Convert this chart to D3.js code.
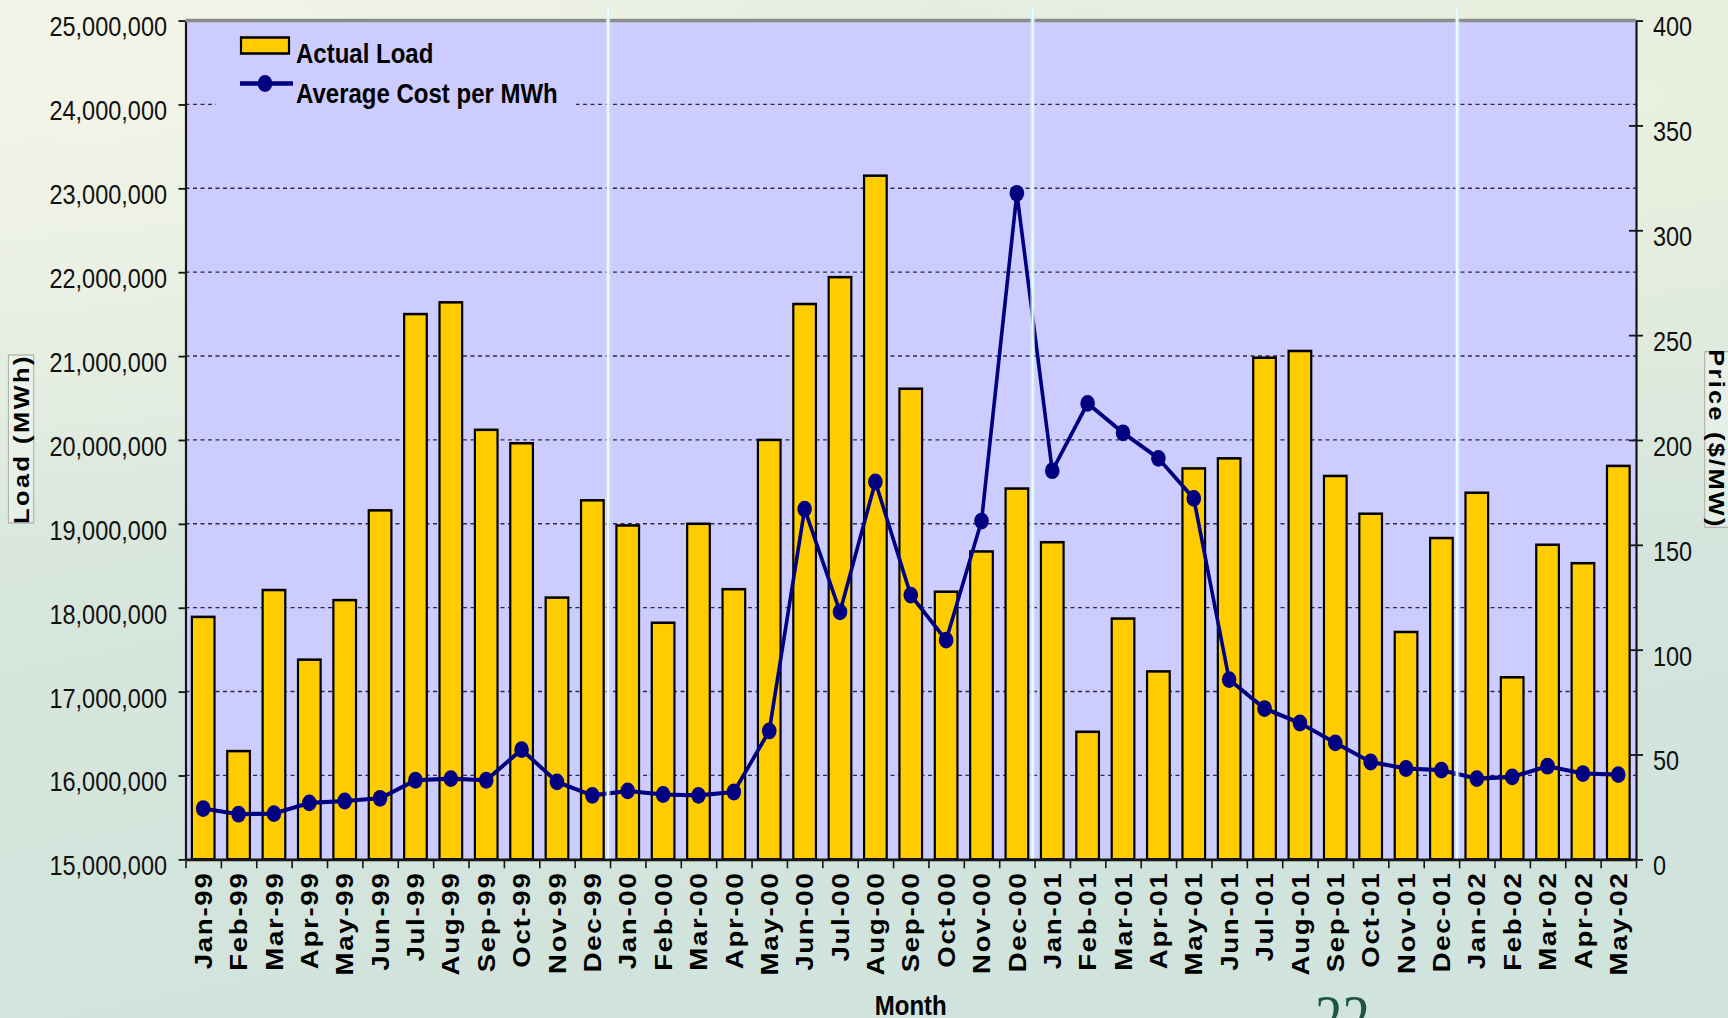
<!DOCTYPE html>
<html><head><meta charset="utf-8">
<script src="https://cdn.jsdelivr.net/npm/d3@7"></script>
<style>html,body{margin:0;padding:0;background:#dce9df;overflow:hidden}svg{display:block}</style>
</head><body><svg id="c" width="1728" height="1018"></svg>
<script>
// ---------- data ----------
const months = ["Jan-99","Feb-99","Mar-99","Apr-99","May-99","Jun-99","Jul-99","Aug-99","Sep-99","Oct-99","Nov-99","Dec-99",
  "Jan-00","Feb-00","Mar-00","Apr-00","May-00","Jun-00","Jul-00","Aug-00","Sep-00","Oct-00","Nov-00","Dec-00",
  "Jan-01","Feb-01","Mar-01","Apr-01","May-01","Jun-01","Jul-01","Aug-01","Sep-01","Oct-01","Nov-01","Dec-01",
  "Jan-02","Feb-02","Mar-02","Apr-02","May-02"];
const actualLoad = [17890000,16290000,18210000,17380000,18090000,19160000,21500000,21640000,20120000,19960000,18120000,19280000,
  18980000,17820000,19000000,18220000,20000000,21620000,21940000,23150000,20610000,18190000,18670000,19420000,
  18780000,16520000,17870000,17240000,19660000,19780000,20980000,21060000,19570000,19120000,17710000,18830000,
  19370000,17170000,18750000,18530000,19690000];
const avgCost = [24.2,21.5,21.8,26.9,27.8,29.1,37.7,38.5,37.7,52.3,36.9,30.5,
  32.6,30.9,30.5,32.1,61.2,167.0,118.0,180.0,126.0,104.5,161.3,317.6,
  185.3,217.4,203.4,191.2,172.1,85.7,71.9,65.0,55.5,46.4,43.3,42.5,
  38.5,39.3,44.4,40.9,40.4];
const loadTicks = [15000000,16000000,17000000,18000000,19000000,20000000,21000000,22000000,23000000,24000000,25000000];
const priceTicks = [0,50,100,150,200,250,300,350,400];
const seriesNames = ["Actual Load","Average Cost per MWh"];
const xTitle = "Month", yTitle = "Load (MWh)", y2Title = "Price ($/MW)";
const pageNumber = "22";

// ---------- layout ----------
const W = 1728, H = 1018, S = 1.15;          // the slide picture is stretched vertically
const v = d => d / S;
const P = {left:185.5, right:1636, top:v(20.5), bottom:v(859.3)};
const FONT = "'Liberation Sans', Arial, Helvetica, sans-serif";
const navy = "#000080", gold = "#ffcc00", lav = "#ccccff";

const svg = d3.select("#c");
const defs = svg.append("defs");
const bgGrad = defs.append("linearGradient").attr("id","bg").attr("x1","0").attr("y1","0").attr("x2","0.35").attr("y2","1");
bgGrad.append("stop").attr("offset","0").attr("stop-color","#ecf1e2");
bgGrad.append("stop").attr("offset","0.45").attr("stop-color","#d9e7dd");
bgGrad.append("stop").attr("offset","1").attr("stop-color","#d0e3dc");
const hl = defs.append("radialGradient").attr("id","hl").attr("cx","0.05").attr("cy","0.05").attr("r","0.5");
hl.append("stop").attr("offset","0").attr("stop-color","#f3f5e8").attr("stop-opacity","0.9");
hl.append("stop").attr("offset","1").attr("stop-color","#f3f5e8").attr("stop-opacity","0");
const hr = defs.append("radialGradient").attr("id","hr").attr("cx","0.95").attr("cy","0.1").attr("r","0.45");
hr.append("stop").attr("offset","0").attr("stop-color","#eef2df").attr("stop-opacity","0.8");
hr.append("stop").attr("offset","1").attr("stop-color","#eef2df").attr("stop-opacity","0");

svg.append("rect").attr("width",W).attr("height",H).attr("fill","url(#bg)");
svg.append("rect").attr("width",W).attr("height",H).attr("fill","url(#hl)");
svg.append("rect").attr("width",W).attr("height",H).attr("fill","url(#hr)");

const g = svg.append("g").attr("transform",`scale(1,${S})`);

const x = d3.scaleBand().domain(months).range([P.left,P.right]).paddingInner(0.36).paddingOuter(0.18);
const bw = x.bandwidth(), step = x.step();
const xb = d3.scaleLinear().domain([0,months.length]).range([P.left,P.right]);
const y = d3.scaleLinear().domain([loadTicks[0],loadTicks[loadTicks.length-1]]).range([P.bottom,P.top]);
const y2 = d3.scaleLinear().domain([priceTicks[0],priceTicks[priceTicks.length-1]]).range([P.bottom,P.top]);

// plot background
g.append("rect").attr("x",P.left).attr("y",P.top).attr("width",P.right-P.left).attr("height",P.bottom-P.top).attr("fill",lav);

// gridlines
g.append("g").selectAll("line").data(loadTicks.slice(1,-1)).join("line")
  .attr("x1",P.left).attr("x2",P.right).attr("y1",d=>y(d)).attr("y2",d=>y(d))
  .attr("stroke","#2b2b48").attr("stroke-width",1.2).attr("stroke-dasharray","4,3.5");

// bars
const data = months.map((m,i)=>({m, load:actualLoad[i], price:avgCost[i]}));
g.append("g").selectAll("rect").data(data).join("rect")
  .attr("x",d=>x(d.m)).attr("y",d=>y(d.load)).attr("width",bw).attr("height",d=>P.bottom-y(d.load))
  .attr("fill",gold).attr("stroke","#000").attr("stroke-width",2.2);

// legend
const lg = g.append("g");
lg.append("rect").attr("x",216).attr("y",v(24)).attr("width",360).attr("height",v(103)).attr("fill",lav);
lg.append("rect").attr("x",241).attr("y",v(37.5)).attr("width",48).attr("height",v(16)).attr("fill",gold).attr("stroke","#000").attr("stroke-width",2.2);
lg.append("text").attr("x",296).attr("y",v(63.5)).text(seriesNames[0])
  .attr("font-family",FONT).attr("font-size",24).attr("font-weight","bold").attr("fill","#000");
lg.append("line").attr("x1",240).attr("x2",293).attr("y1",v(83.5)).attr("y2",v(83.5)).attr("stroke",navy).attr("stroke-width",4);
lg.append("circle").attr("cx",265).attr("cy",v(83.5)).attr("r",7.3).attr("fill",navy);
lg.append("text").attr("x",296).attr("y",v(103)).text(seriesNames[1])
  .attr("font-family",FONT).attr("font-size",24).attr("font-weight","bold").attr("fill","#000");

// price line
const line = d3.line().x(d=>x(d.m)+bw/2).y(d=>y2(d.price));
g.append("path").datum(data).attr("d",line).attr("fill","none").attr("stroke",navy)
  .attr("stroke-width",3.6).attr("stroke-linejoin","round");
g.append("g").selectAll("circle").data(data).join("circle")
  .attr("cx",d=>x(d.m)+bw/2).attr("cy",d=>y2(d.price)).attr("r",7.3).attr("fill",navy);

// axes
function styleAxis(sel){
  sel.select(".domain").attr("stroke","#161616").attr("stroke-width",2.2);
  sel.selectAll(".tick line").attr("stroke","#161616").attr("stroke-width",1.6);
  sel.selectAll(".tick text").attr("font-family",FONT).attr("font-size",23.5).attr("fill","#111");
}
const ax = g.append("g").attr("transform",`translate(${P.left},0)`)
  .call(d3.axisLeft(y).tickValues(loadTicks).tickFormat(d3.format(",")).tickSize(7).tickSizeOuter(0).tickPadding(11.5));
styleAxis(ax); ax.selectAll(".tick text").attr("dy","0.57em");

const ax2 = g.append("g").attr("transform",`translate(${P.right},0)`)
  .call(d3.axisRight(y2).tickValues(priceTicks).tickFormat(d3.format("d")).tickSize(7).tickSizeOuter(0).tickPadding(10));
styleAxis(ax2); ax2.selectAll(".tick line").attr("x1",-7); ax2.selectAll(".tick text").attr("dy","0.57em");

const axb = g.append("g").attr("transform",`translate(0,${P.bottom})`)
  .call(d3.axisBottom(xb).tickValues(d3.range(months.length+1)).tickFormat("").tickSize(v(9)).tickSizeOuter(0));
styleAxis(axb);

// top border of plot
g.append("line").attr("x1",P.left).attr("x2",P.right).attr("y1",P.top).attr("y2",P.top)
  .attr("stroke","#8a8d8a").attr("stroke-width",3);

// category labels
g.append("g").selectAll("text").data(months).join("text")
  .attr("transform",m=>`translate(${x(m)+bw/2},${v(871.5)}) rotate(-90)`)
  .attr("text-anchor","end").attr("dy","0.36em")
  .attr("font-family",FONT).attr("font-size",24).attr("font-weight","bold")
  .attr("letter-spacing",1.5).attr("fill","#000").text(m=>m);

// light vertical streaks of the slide at year boundaries
const yearStarts = months.filter((m,i)=>i>0 && m.startsWith("Jan"));
const streaks = g.append("g");
streaks.selectAll("line.h").data(yearStarts).join("line").attr("class","h")
  .attr("x1",m=>x(m)-(step-bw)/2-2).attr("x2",m=>x(m)-(step-bw)/2-2)
  .attr("y1",v(7)).attr("y2",P.bottom-1)
  .attr("stroke","#d4eef6").attr("stroke-opacity",0.55).attr("stroke-width",5);
streaks.selectAll("line.c").data(yearStarts).join("line").attr("class","c")
  .attr("x1",m=>x(m)-(step-bw)/2-2).attr("x2",m=>x(m)-(step-bw)/2-2)
  .attr("y1",v(7)).attr("y2",P.bottom-1)
  .attr("stroke","#eefbff").attr("stroke-width",2);

// axis titles
g.append("text").attr("x",(P.left+P.right)/2).attr("y",v(1015)).attr("text-anchor","middle")
  .attr("font-family",FONT).attr("font-size",24).attr("font-weight","bold").text(xTitle);

g.append("rect").attr("x",8.4).attr("y",v(355)).attr("width",25.3).attr("height",v(168))
  .attr("fill","#ffffff").attr("fill-opacity",0.3).attr("stroke","#a9aca9").attr("stroke-width",1);
g.append("text").attr("transform",`translate(21,${v(439)}) rotate(-90)`).attr("text-anchor","middle").attr("dy","0.36em")
  .attr("font-family",FONT).attr("font-size",22).attr("font-weight","bold").attr("letter-spacing",2.2).text(yTitle);

g.append("rect").attr("x",1704.7).attr("y",v(351.7)).attr("width",30).attr("height",v(175.6))
  .attr("fill","#ffffff").attr("fill-opacity",0.3).attr("stroke","#a9aca9").attr("stroke-width",1);
g.append("text").attr("transform",`translate(1716.7,${v(439)}) rotate(90)`).attr("text-anchor","middle").attr("dy","0.36em")
  .attr("font-family",FONT).attr("font-size",22).attr("font-weight","bold").attr("letter-spacing",2).text(y2Title);

// slide page number
g.append("text").attr("x",1315).attr("y",v(1039.5)).attr("font-family","'Liberation Serif','Times New Roman',serif")
  .attr("font-size",55).attr("fill","#1d5646").text(pageNumber);
</script></body></html>
